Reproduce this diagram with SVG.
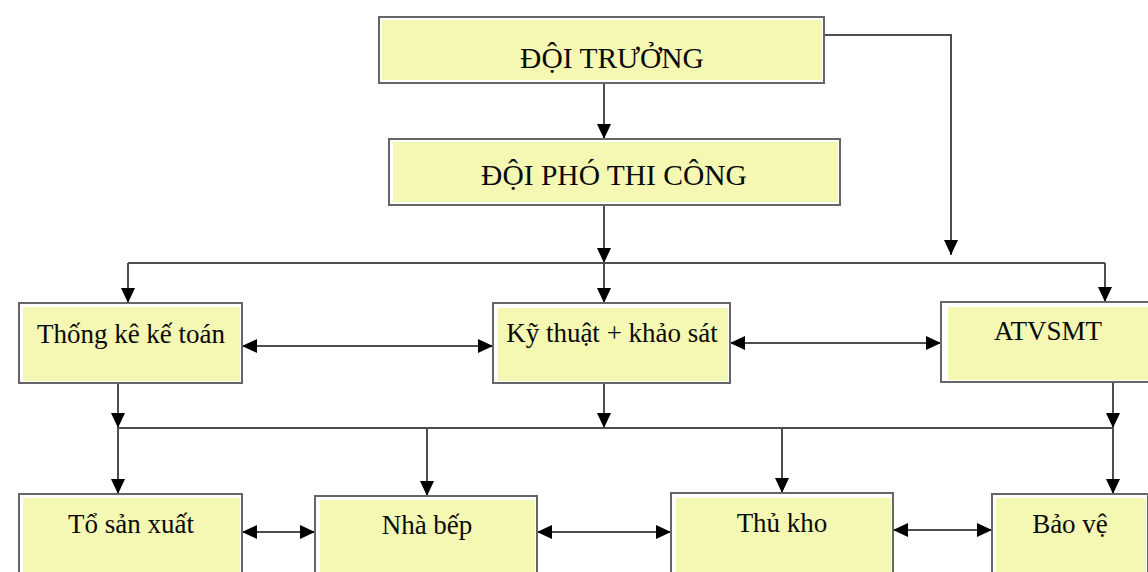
<svg xmlns="http://www.w3.org/2000/svg" width="1148" height="572" viewBox="0 0 1148 572">
<style>
.frame{fill:#ffffff;stroke:#666666;stroke-width:2}
.fill{fill:#f5f8b3;stroke:none}
.t1{font-family:"Liberation Serif","Times New Roman",serif;font-size:29.5px;fill:#0a0a0a;text-anchor:middle}
.t2{font-family:"Liberation Serif","Times New Roman",serif;font-size:27px;fill:#0a0a0a;text-anchor:middle}
.ln{fill:none;stroke:#4d4d4d;stroke-width:2}
</style>
<defs>
<marker id="ah" markerUnits="userSpaceOnUse" markerWidth="16" markerHeight="14" viewBox="0 0 16 14" refX="15" refY="7" orient="auto-start-reverse">
<path d="M0,0 L15,7 L0,14 z" fill="#000"/>
</marker>
</defs>
<rect width="1148" height="572" fill="#ffffff"/>
<g id="connectors">
<path class="ln" d="M604,83 V139" marker-end="url(#ah)"/>
<path class="ln" d="M824,35 H951 V255" marker-end="url(#ah)"/>
<path class="ln" d="M604,205 V263" marker-end="url(#ah)"/>
<path class="ln" d="M128,263 H1105"/>
<path class="ln" d="M604,263 V303" marker-end="url(#ah)"/>
<path class="ln" d="M128,263 V303" marker-end="url(#ah)"/>
<path class="ln" d="M1105,263 V302" marker-end="url(#ah)"/>
<path class="ln" d="M242,346 H493" marker-start="url(#ah)" marker-end="url(#ah)"/>
<path class="ln" d="M730,343 H941" marker-start="url(#ah)" marker-end="url(#ah)"/>
<path class="ln" d="M118,383 V428" marker-end="url(#ah)"/>
<path class="ln" d="M604,383 V428" marker-end="url(#ah)"/>
<path class="ln" d="M1113,382 V428" marker-end="url(#ah)"/>
<path class="ln" d="M118,428 H1113"/>
<path class="ln" d="M118,428 V494" marker-end="url(#ah)"/>
<path class="ln" d="M427,428 V496" marker-end="url(#ah)"/>
<path class="ln" d="M782,428 V493" marker-end="url(#ah)"/>
<path class="ln" d="M1113,428 V494" marker-end="url(#ah)"/>
<path class="ln" d="M242,532 H315" marker-start="url(#ah)" marker-end="url(#ah)"/>
<path class="ln" d="M537,532 H671" marker-start="url(#ah)" marker-end="url(#ah)"/>
<path class="ln" d="M893,530 H992" marker-start="url(#ah)" marker-end="url(#ah)"/>
</g>
<g id="doi-truong">
<rect class="frame" x="379" y="17" width="445" height="66"/>
<rect class="fill" x="382" y="20" width="440" height="60"/>
<text class="t1" x="612" y="68">ĐỘI TRƯỞNG</text>
</g>
<g id="doi-pho">
<rect class="frame" x="389" y="139" width="451" height="66"/>
<rect class="fill" x="393" y="142" width="445" height="60"/>
<text class="t1" x="614" y="185">ĐỘI PHÓ THI CÔNG</text>
</g>
<g id="thong-ke">
<rect class="frame" x="19" y="303" width="223" height="80"/>
<rect class="fill" x="23" y="307" width="217" height="74"/>
<text class="t2" x="131" y="343">Thống kê kế toán</text>
</g>
<g id="ky-thuat">
<rect class="frame" x="493" y="303" width="237" height="80"/>
<rect class="fill" x="498" y="308" width="230" height="73"/>
<text class="t2" x="612" y="342">Kỹ thuật + khảo sát</text>
</g>
<g id="atvsmt">
<rect class="frame" x="941" y="302" width="212" height="80"/>
<rect class="fill" x="948" y="307" width="203" height="73"/>
<text class="t2" x="1048" y="340">ATVSMT</text>
</g>
<g id="to-san-xuat">
<rect class="frame" x="19" y="494" width="223" height="90"/>
<rect class="fill" x="23" y="498" width="217" height="84"/>
<text class="t2" x="131" y="533">Tổ sản xuất</text>
</g>
<g id="nha-bep">
<rect class="frame" x="315" y="496" width="222" height="90"/>
<rect class="fill" x="320" y="500" width="215" height="84"/>
<text class="t2" x="427" y="534">Nhà bếp</text>
</g>
<g id="thu-kho">
<rect class="frame" x="671" y="493" width="222" height="90"/>
<rect class="fill" x="676" y="498" width="215" height="84"/>
<text class="t2" x="782" y="532">Thủ kho</text>
</g>
<g id="bao-ve">
<rect class="frame" x="992" y="494" width="156" height="90"/>
<rect class="fill" x="996" y="498" width="150" height="84"/>
<text class="t2" x="1070" y="533">Bảo vệ</text>
</g>
</svg>
